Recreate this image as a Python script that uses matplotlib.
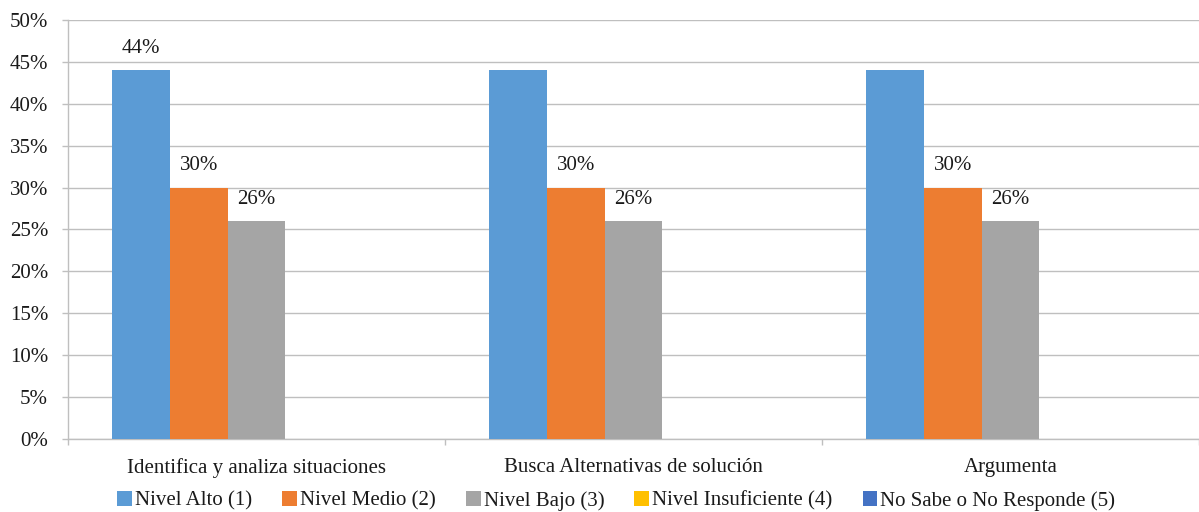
import matplotlib
matplotlib.use("Agg")
import matplotlib.pyplot as plt
import numpy as np
from matplotlib.patches import Patch

categories = ["Identifica y analiza situaciones", "Busca Alternativas de solución", "Argumenta"]
series_names = ["Nivel Alto (1)", "Nivel Medio (2)", "Nivel Bajo (3)",
                "Nivel Insuficiente (4)", "No Sabe o No Responde (5)"]
nivel_alto = [44, 44, 44]
nivel_medio = [30, 30, 30]
nivel_bajo = [26, 26, 26]
nivel_insuficiente = [0, 0, 0]
no_responde = [0, 0, 0]
# which values carry a text label in each series
label_alto = [True, False, False]
label_medio = [True, True, True]
label_bajo = [True, True, True]

colors = ["#5B9BD5", "#ED7D31", "#A5A5A5", "#FFC000", "#4472C4"]
values = [nivel_alto, nivel_medio, nivel_bajo, nivel_insuficiente, no_responde]
label_flags = [label_alto, label_medio, label_bajo, None, None]

plt.rcParams["font.family"] = ["Liberation Serif", "DejaVu Serif"]
FS = 15
TXT = "#1a1a1a"

W, H = 1199, 512
fig = plt.figure(figsize=(W / 100, H / 100), dpi=100)
left_px, right_px, top_px, bot_px = 68, 1199, 20, 439
ax = fig.add_axes([left_px / W, 1 - bot_px / H, (right_px - left_px) / W, (bot_px - top_px) / H])

cat_px = 381.0
ax.set_xlim(0, (right_px - left_px) / cat_px)
ax.set_ylim(0, 50)

bw = 0.1535
start = 0.5 - 2.5 * bw
x = np.arange(len(categories))
grid_c = "#BFBFBF"

for i, (vals, col) in enumerate(zip(values, colors)):
    xs = x + start + (i + 0.5) * bw
    ax.bar(xs, vals, width=bw, color=col, zorder=3, linewidth=0)
    flags = label_flags[i]
    if flags is not None:
        for xx, v, f in zip(xs, vals, flags):
            if f:
                ax.text(xx, v + 1.45, f"{v}%", ha="center", va="bottom",
                        fontsize=FS, color=TXT)

ax.set_yticks(np.arange(0, 51, 5))
ax.set_yticklabels([f"{v}%" for v in range(0, 51, 5)], fontsize=FS, color=TXT)
ax.yaxis.grid(True, color=grid_c, linewidth=1.0, zorder=0)
ax.set_axisbelow(True)

# category boundaries as ticks, names centred in between
ax.set_xticks([0, 1, 2, 3])
ax.set_xticklabels([])
ax.set_xticks(x + 0.5, minor=True)
ax.set_xticklabels(categories, minor=True, fontsize=FS, color=TXT)
ax.tick_params(axis="x", which="major", length=4.3, color=grid_c, width=1)
ax.tick_params(axis="x", which="minor", length=0, pad=13.5)
ax.tick_params(axis="y", length=4.3, color=grid_c, width=1, pad=10)

for s in ["top", "right"]:
    ax.spines[s].set_visible(False)
for s in ["left", "bottom"]:
    ax.spines[s].set_color(grid_c)
    ax.spines[s].set_linewidth(1.0)

handles = [Patch(facecolor=c, edgecolor="none") for c in colors]
fig.legend(handles, series_names, loc="center", ncol=5, frameon=False,
           bbox_to_anchor=(0.514, 1 - 501 / H), fontsize=FS,
           handlelength=0.7, handleheight=0.7, handletextpad=0.15,
           columnspacing=1.45, labelcolor=TXT, borderpad=0)

fig.savefig("out.png", dpi=100)
